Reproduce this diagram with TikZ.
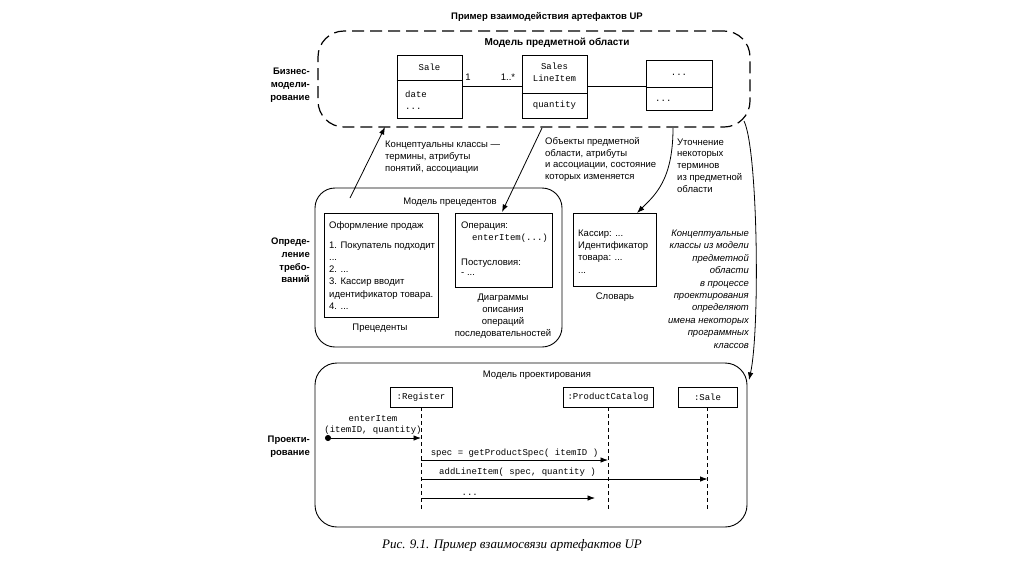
\documentclass[tikz,border=0pt]{standalone}
\usepackage{fontspec}
\setmainfont{Liberation Sans}
\setmonofont{Liberation Mono}
\newfontfamily\capfont{Liberation Serif}
\usetikzlibrary{arrows.meta}

\tikzset{
  txt/.style={inner sep=0pt, font=\fontsize{9.5}{11.8}\selectfont},
  lab/.style={inner sep=0pt, font=\fontsize{9.5}{12.8}\selectfont\bfseries},
  mono/.style={inner sep=0pt, font=\fontsize{9}{12}\selectfont\ttfamily},
  box/.style={draw, line width=0.9pt, inner sep=0pt},
  model/.style={draw, line width=0.9pt, inner sep=0pt, rounded corners=22pt},
  arr/.style={line width=0.8pt, -{Latex[length=7.5pt,width=5.5pt]}},
  life/.style={line width=0.7pt, dash pattern=on 4pt off 3pt},
}

\begin{document}
\begin{tikzpicture}[x=1pt,y=-1pt]
  \useasboundingbox (0,0) rectangle (1024,574);
  \fill[white] (0,0) rectangle (1024,574);

  % business modelling
  \node[lab] (title) at (547,17) {Пример взаимодействия артефактов UP};
  \node[draw, line width=1.2pt, dash pattern=on 12pt off 6pt, rounded corners=26pt,
        minimum width=432pt, minimum height=96pt] (dm) at (534,79) {};
  \node[lab, font=\fontsize{10}{12.8}\selectfont\bfseries] (dmtitle) at (557,43) {Модель предметной области};
  \node[lab, anchor=east, align=right] (bm) at (310,85) {Бизнес-\\модели-\\рование};

  \node[box, minimum width=65pt, minimum height=63pt] (sale) at (429.5,86.5) {};
  \draw[line width=0.9pt] (sale.west |- 0,80) -- (sale.east |- 0,80);
  \node[mono] (salename) at (429.5,67) {Sale};
  \node[mono, anchor=west, align=left] (saleattr) at (405,100) {date\\...};

  \node[box, minimum width=65pt, minimum height=63pt] (sli) at (554.5,86.5) {};
  \draw[line width=0.9pt] (sli.west |- 0,93) -- (sli.east |- 0,93);
  \node[mono, align=center] (sliname) at (554.5,72.5) {Sales\\LineItem};
  \node[mono] (sliattr) at (554.5,105) {quantity};

  \node[box, minimum width=66pt, minimum height=50pt] (other) at (679,85) {};
  \draw[line width=0.9pt] (other.west |- 0,87) -- (other.east |- 0,87);
  \node[mono] (othername) at (679,75) {...};
  \node[mono, anchor=west] (otherattr) at (655,101) {...};

  \draw[line width=0.9pt] (sale.east |- 0,86) -- (sli.west |- 0,86);
  \draw[line width=0.9pt] (sli.east |- 0,86) -- (other.west |- 0,86);
  \node[txt] (m1) at (468,77) {1};
  \node[txt] (m2) at (508,77) {1..*};

  % requirements
  \node[model, rounded corners=20pt, minimum width=247pt, minimum height=159pt] (ucm) at (438.5,267.5) {};
  \node[txt] (ucmtitle) at (450,202) {Модель прецедентов};
  \node[lab, anchor=east, align=right] (req) at (310,260.5) {Опреде-\\ление\\требо-\\ваний};

  \node[box, minimum width=114pt, minimum height=104pt] (uc) at (381,265) {};
  \node[txt, anchor=west] (uctitle) at (329,226) {Оформление продаж};
  \node[txt, anchor=west, align=left, font=\fontsize{9.5}{12.2}\selectfont] (uctext) at (329,275.5)
    {1. Покупатель подходит\\...\\2. ...\\3. Кассир вводит\\идентификатор товара.\\4. ...};
  \node[txt] (uccap) at (380,328) {Прецеденты};

  \node[box, minimum width=97pt, minimum height=74pt] (op) at (503.5,250) {};
  \node[txt, anchor=west] (optitle) at (461,226) {Операция:};
  \node[mono, anchor=west] (opname) at (472,238) {enterItem(...)};
  \node[txt, anchor=west] (oppost) at (461,263) {Постусловия:};
  \node[txt, anchor=west] (opdots) at (461,274) {- ...};
  \node[txt, align=center] (opcap) at (503,316) {Диаграммы\\описания\\операций\\последовательностей};

  \node[box, minimum width=83pt, minimum height=73pt] (dict) at (614.5,249.5) {};
  \node[txt, anchor=west, align=left, font=\fontsize{9.5}{12.3}\selectfont] (dicttext) at (578,251.5)
    {Кассир: ...\\Идентификатор\\товара: ...\\...};
  \node[txt] (dictcap) at (615,297) {Словарь};

  % links between models
  \coordinate (a1s) at (350,198);
  \coordinate (a1e) at (385,127);
  \draw[arr] (a1s) -- (a1e);
  \node[txt, anchor=west, align=left, font=\fontsize{9.5}{11.7}\selectfont] (a1txt) at (385,157)
    {Концептуальны классы ---\\термины, атрибуты\\понятий, ассоциации};

  \coordinate (a2s) at (542,128);
  \coordinate (a2e) at (502,212);
  \draw[arr] (a2s) -- (a2e);
  \node[txt, anchor=west, align=left, font=\fontsize{9.5}{11.7}\selectfont] (a2txt) at (545,159.5)
    {Объекты предметной\\области, атрибуты\\и ассоциации, состояние\\которых изменяется};

  \coordinate (a3s) at (673,128);
  \coordinate (a3e) at (637,213);
  \draw[arr] (a3s) .. controls (673,180) and (655,195) .. (a3e);
  \node[txt, anchor=west, align=left, font=\fontsize{9.5}{11.8}\selectfont] (a3txt) at (677,165.5)
    {Уточнение\\некоторых\\терминов\\из предметной\\области};

  \coordinate (a4s) at (744,121);
  \coordinate (a4e) at (749,380);
  \draw[arr] (a4s) .. controls (758,150) and (760,330) .. (a4e);
  \node[txt, anchor=east, align=right, font=\fontsize{9.5}{12.4}\selectfont\itshape] (a4txt) at (749,289)
    {Концептуальные\\классы из модели\\предметной\\области\\в процессе\\проектирования\\определяют\\имена некоторых\\программных\\классов};

  % design
  \node[model, minimum width=432pt, minimum height=164pt] (dsm) at (531,445) {};
  \node[txt] (dsmtitle) at (537,375) {Модель проектирования};
  \node[lab, anchor=east, align=right] (des) at (310,446.5) {Проекти-\\рование};

  \node[box, mono, draw, line width=0.9pt, minimum width=62pt, minimum height=20pt] (reg) at (421,397) {:Register};
  \node[box, mono, draw, line width=0.9pt, minimum width=90pt, minimum height=20pt] (cat) at (608,397) {:ProductCatalog};
  \node[box, mono, draw, line width=0.9pt, minimum width=59pt, minimum height=20pt] (sl) at (707.5,397) {:Sale};
  \draw[life] (reg.south) -- (reg |- 0,512);
  \draw[life] (cat.south) -- (cat |- 0,512);
  \draw[life] (sl.south) -- (sl |- 0,512);

  \coordinate (found) at (325,438);
  \draw[line width=0.8pt, {Circle[length=6pt]}-{Latex[length=7.5pt,width=5.5pt]}] (found) -- (reg |- found)
    node[mono, midway, above=3pt, align=center, font=\fontsize{9}{11}\selectfont\ttfamily] {enterItem\\(itemID, quantity)};
  \draw[arr] (reg |- 0,460) -- (cat |- 0,460)
    node[mono, midway, above=2pt] {spec = getProductSpec( itemID )};
  \draw[arr] (reg |- 0,479) -- (sl |- 0,479)
    node[mono, pos=0.337, above=2pt] {addLineItem( spec, quantity )};
  \draw[arr] (reg |- 0,498) -- (595,498)
    node[mono, pos=0.28, above=2pt] {...};

  \node[font=\capfont\itshape\fontsize{13}{15}\selectfont, inner sep=0pt] (cap) at (512,545)
    {Рис. 9.1. Пример взаимосвязи артефактов UP};
\end{tikzpicture}
\end{document}
